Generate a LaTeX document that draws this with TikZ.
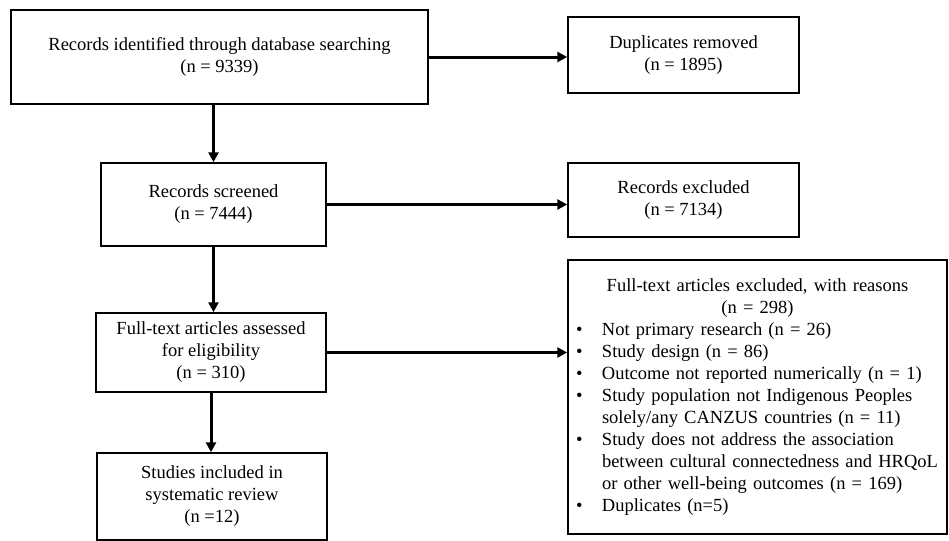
\documentclass[tikz,border=0pt]{standalone}
\usepackage{fontspec}
\setmainfont{Liberation Serif}
\usepackage{tikz}
\usetikzlibrary{arrows.meta}

\newcommand{\itm}{\makebox[13pt][l]{\textbullet}}
\newcommand{\cnt}{\hspace*{13pt}}

\begin{document}
\begin{tikzpicture}[x=0.5pt,y=-0.5pt]
			\tikzset{every node/.style={font=\fontsize{9.25}{11}\selectfont}}
			\tikzset{stage/.style={draw,line width=0.75pt,align=center,inner sep=0pt}}
			\tikzset{flow/.style={line width=1.5pt,-{Triangle[length=5pt,width=5pt]}}}
			\useasboundingbox (0,0) rectangle (949,541);
			\node[stage,minimum width=208.5pt,minimum height=47pt] (ident) at (219.5,57) {Records identified through database searching\\(n = 9339)};
			\node[stage,minimum width=115.5pt,minimum height=38pt] (dup) at (683.5,55) {Duplicates removed\\(n = 1895)};
			\node[stage,minimum width=112.5pt,minimum height=41.5pt] (screen) at (213.5,204.5) {Records screened\\(n = 7444)};
			\node[stage,minimum width=115.5pt,minimum height=37pt] (excl) at (683.5,200) {Records excluded\\(n = 7134)};
			\node[stage,minimum width=115pt,minimum height=39.5pt] (full) at (211,352.5) {Full-text articles assessed\\for eligibility\\(n = 310)};
			\node[stage,minimum width=115pt,minimum height=43.5pt] (incl) at (212,496.5) {Studies included in\\systematic review\\(n =12)};
			\node[stage,align=left,inner xsep=4pt,text width=181.5pt,minimum height=137pt] (reasons) at (757.5,397) {{\centering Full-text articles excluded, with reasons\\(n = 298)\par}
				\itm Not primary research (n = 26)\\
				\itm Study design (n = 86)\\
				\itm Outcome not reported numerically (n = 1)\\
				\itm Study population not Indigenous Peoples\\
				\cnt solely/any CANZUS countries (n = 11)\\
				\itm Study does not address the association\\
				\cnt between cultural connectedness and HRQoL\\
				\cnt or other well-being outcomes (n = 169)\\
				\itm Duplicates (n=5)};
			\draw[flow] (ident.south -| screen) -- (screen.north);
			\draw[flow] (screen.south) -- (screen.south |- full.north);
			\draw[flow] (full.south) -- (full.south |- incl.north);
			\draw[flow] (ident.east) -- (ident.east -| dup.west);
			\draw[flow] (screen.east) -- (screen.east -| excl.west);
			\draw[flow] (full.east) -- (full.east -| reasons.west);
\end{tikzpicture}
\end{document}
